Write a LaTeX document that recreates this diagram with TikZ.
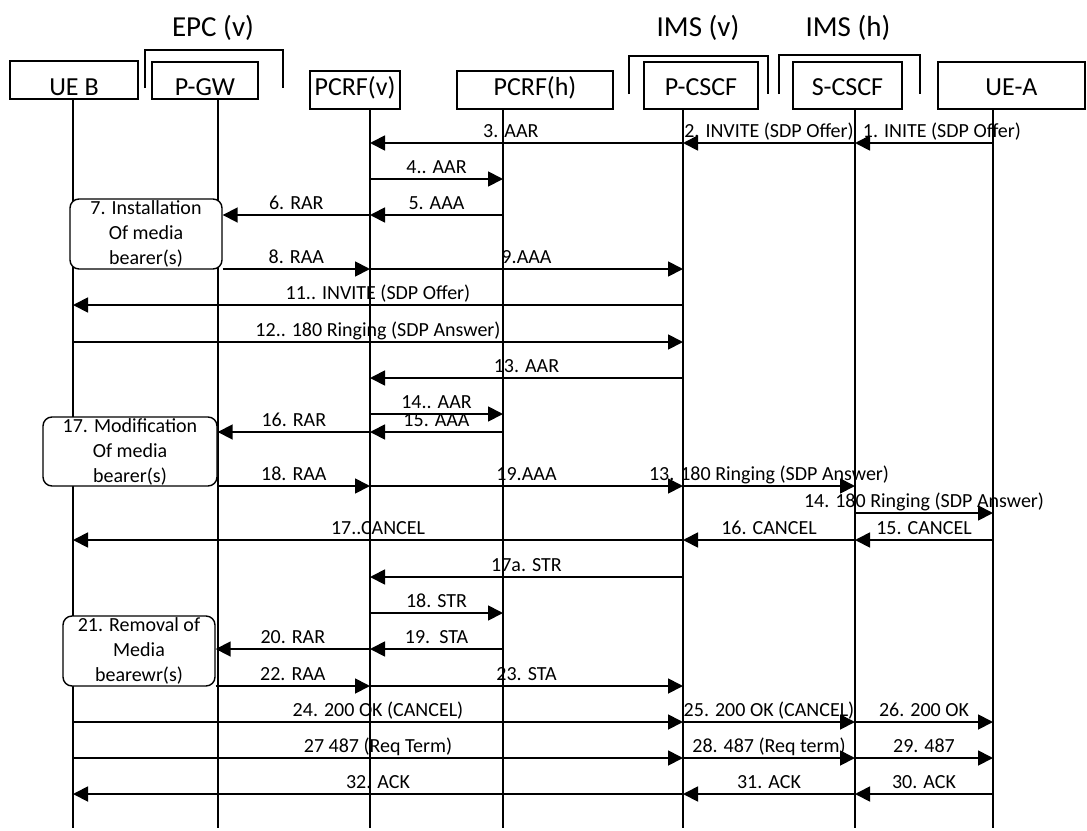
\documentclass[tikz,border=0pt]{standalone}
\usepackage{fontspec}
\setmainfont{Carlito}
\usetikzlibrary{arrows.meta}

\begin{document}
\begin{tikzpicture}[
  x=1pt,
  y=-1pt,
  entity/.style={
    draw,
    line width=1.6pt,
    inner sep=0pt,
    text depth=0pt,
    font=\fontsize{26}{30}\selectfont
  },
  grouptitle/.style={
    font=\fontsize{29}{33}\selectfont,
    inner sep=0pt
  },
  bracket/.style={
    draw,
    line width=1.6pt
  },
  lifeline/.style={
    draw,
    line width=1.8pt
  },
  action/.style={
    draw,
    fill=white,
    line width=1.4pt,
    rounded corners=9pt,
    inner sep=0pt,
    align=center,
    font=\fontsize{20}{25}\selectfont
  },
  msg/.style={
    -{Triangle[length=15pt,width=15pt]},
    draw,
    line width=1.8pt
  },
  lbl/.style={
    font=\fontsize{20}{24}\selectfont,
    inner sep=0pt,
    text depth=0pt,
    above=5pt
  }
]
\useasboundingbox (0,0) rectangle (1087,830);

% ---------------------------------------------------------------------------
% Domains and entities.  All entity names sit on one common baseline.
% ---------------------------------------------------------------------------
\node[grouptitle] (epc) at (213,28) {EPC (v)};
\node[grouptitle] (imsv) at (698,28) {IMS (v)};
\node[grouptitle] (imsh) at (848,28) {IMS (h)};

\draw[bracket] (145,88) |- (283,50) -- (283,88);
\draw[bracket] (629,94) |- (768,56) -- (768,94);
\draw[bracket] (779,94) |- (920,55) -- (920,94);

\node[entity,minimum width=128pt,minimum height=38pt,text height=30.4pt]
  (ueb) at (74,80) {UE B};
\node[entity,minimum width=106pt,minimum height=37pt,text height=29.4pt]
  (pgw) at (205,80.5) {P-GW};
\node[entity,minimum width=90pt,minimum height=38pt,text height=10.4pt]
  (pcrfv) at (355,90) {PCRF(v)};
\node[entity,minimum width=156pt,minimum height=38pt,text height=10.4pt]
  (pcrfh) at (535,90) {PCRF(h)};
\node[entity,minimum width=114pt,minimum height=47pt,text height=19.4pt]
  (pcscf) at (701,85.5) {P-CSCF};
\node[entity,minimum width=109pt,minimum height=47pt,text height=19.4pt]
  (scscf) at (847.5,85.5) {S-CSCF};
\node[entity,minimum width=147pt,minimum height=47pt,text height=19.4pt]
  (uea) at (1011.5,85.5) {UE-A};

% Lifelines.
\foreach \n/\x in {ueb/73,pgw/218,pcrfv/370,pcrfh/503,pcscf/683,scscf/855,uea/993} {
  \coordinate (\n-l) at (\n.south -| \x,0);
  \draw[lifeline] (\n-l) -- (\x,828);
}

% Bearer handling in the P-GW.
\node[action,minimum width=152pt,minimum height=70pt] (install) at (146,234)
  {7. Installation\\Of media\\bearer(s)};
\node[action,minimum width=174pt,minimum height=69pt] (modify) at (130,451.5)
  {17. Modification\\Of media\\bearer(s)};
\node[action,minimum width=152pt,minimum height=70pt] (removal) at (139,651)
  {21. Removal of\\Media\\bearewr(s)};

% ---------------------------------------------------------------------------
% Session set-up.
% ---------------------------------------------------------------------------
\draw[msg] (uea-l |- 0,143) -- (scscf-l |- 0,143)
  node[lbl,pos=0.37] {1. INITE (SDP Offer)};
\draw[msg] (scscf-l |- 0,143) -- (pcscf-l |- 0,143)
  node[lbl,midway] {2. INVITE (SDP Offer)};
\draw[msg] (pcscf-l |- 0,143) -- (pcrfv-l |- 0,143)
  node[lbl,pos=0.55] {3. AAR};
\draw[msg] (pcrfv-l |- 0,179) -- (pcrfh-l |- 0,179)
  node[lbl,midway] {4.. AAR};
\draw[msg] (pcrfh-l |- 0,215) -- (pcrfv-l |- 0,215)
  node[lbl,midway] {5. AAA};
\draw[msg] (pcrfv-l |- 0,215) -- (install.east |- 0,215)
  node[lbl,midway] {6. RAR};
\draw[msg] (install.east |- 0,269) -- (pcrfv-l |- 0,269)
  node[lbl,midway] {8. RAA};
\draw[msg] (pcrfv-l |- 0,269) -- (pcscf-l |- 0,269)
  node[lbl,midway] {9.AAA};
\draw[msg] (pcscf-l |- 0,305) -- (ueb-l |- 0,305)
  node[lbl,midway] {11.. INVITE (SDP Offer)};
\draw[msg] (ueb-l |- 0,342) -- (pcscf-l |- 0,342)
  node[lbl,midway] {12.. 180 Ringing (SDP Answer)};
\draw[msg] (pcscf-l |- 0,378) -- (pcrfv-l |- 0,378)
  node[lbl,midway] {13. AAR};
\draw[msg] (pcrfv-l |- 0,414) -- (pcrfh-l |- 0,414)
  node[lbl,midway] {14.. AAR};
\draw[msg] (pcrfh-l |- 0,432) -- (pcrfv-l |- 0,432)
  node[lbl,midway] {15. AAA};
\draw[msg] (pcrfv-l |- 0,432) -- (modify.east |- 0,432)
  node[lbl,midway] {16. RAR};
\draw[msg] (modify.east |- 0,486) -- (pcrfv-l |- 0,486)
  node[lbl,midway] {18. RAA};
\draw[msg] (pcrfv-l |- 0,486) -- (pcscf-l |- 0,486)
  node[lbl,midway] {19.AAA};
\draw[msg] (pcscf-l |- 0,486) -- (scscf-l |- 0,486)
  node[lbl,midway] {13. 180 Ringing (SDP Answer)};
\draw[msg] (scscf-l |- 0,513) -- (uea-l |- 0,513)
  node[lbl,midway] {14. 180 Ringing (SDP Answer)};

% ---------------------------------------------------------------------------
% Cancellation and release.
% ---------------------------------------------------------------------------
\draw[msg] (uea-l |- 0,540) -- (scscf-l |- 0,540)
  node[lbl,midway] {15. CANCEL};
\draw[msg] (scscf-l |- 0,540) -- (pcscf-l |- 0,540)
  node[lbl,midway] {16. CANCEL};
\draw[msg] (pcscf-l |- 0,540) -- (ueb-l |- 0,540)
  node[lbl,midway] {17..CANCEL};
\draw[msg] (pcscf-l |- 0,577) -- (pcrfv-l |- 0,577)
  node[lbl,midway] {17a. STR};
\draw[msg] (pcrfv-l |- 0,613) -- (pcrfh-l |- 0,613)
  node[lbl,midway] {18. STR};
\draw[msg] (pcrfh-l |- 0,649) -- (pcrfv-l |- 0,649)
  node[lbl,midway] {19.\ \ STA};
\draw[msg] (pcrfv-l |- 0,649) -- (removal.east |- 0,649)
  node[lbl,midway] {20. RAR};
\draw[msg] (removal.east |- 0,686) -- (pcrfv-l |- 0,686)
  node[lbl,midway] {22. RAA};
\draw[msg] (pcrfv-l |- 0,686) -- (pcscf-l |- 0,686)
  node[lbl,midway] {23. STA};

\draw[msg] (ueb-l |- 0,722) -- (pcscf-l |- 0,722)
  node[lbl,midway] {24. 200 OK (CANCEL)};
\draw[msg] (pcscf-l |- 0,722) -- (scscf-l |- 0,722)
  node[lbl,midway] {25. 200 OK (CANCEL)};
\draw[msg] (scscf-l |- 0,722) -- (uea-l |- 0,722)
  node[lbl,midway] {26. 200 OK};

\draw[msg] (ueb-l |- 0,758) -- (pcscf-l |- 0,758)
  node[lbl,midway] {27 487 (Req Term)};
\draw[msg] (pcscf-l |- 0,758) -- (scscf-l |- 0,758)
  node[lbl,midway] {28. 487 (Req term)};
\draw[msg] (scscf-l |- 0,758) -- (uea-l |- 0,758)
  node[lbl,midway] {29. 487};

\draw[msg] (uea-l |- 0,794) -- (scscf-l |- 0,794)
  node[lbl,midway] {30. ACK};
\draw[msg] (scscf-l |- 0,794) -- (pcscf-l |- 0,794)
  node[lbl,midway] {31. ACK};
\draw[msg] (pcscf-l |- 0,794) -- (ueb-l |- 0,794)
  node[lbl,midway] {32. ACK};

\end{tikzpicture}
\end{document}
